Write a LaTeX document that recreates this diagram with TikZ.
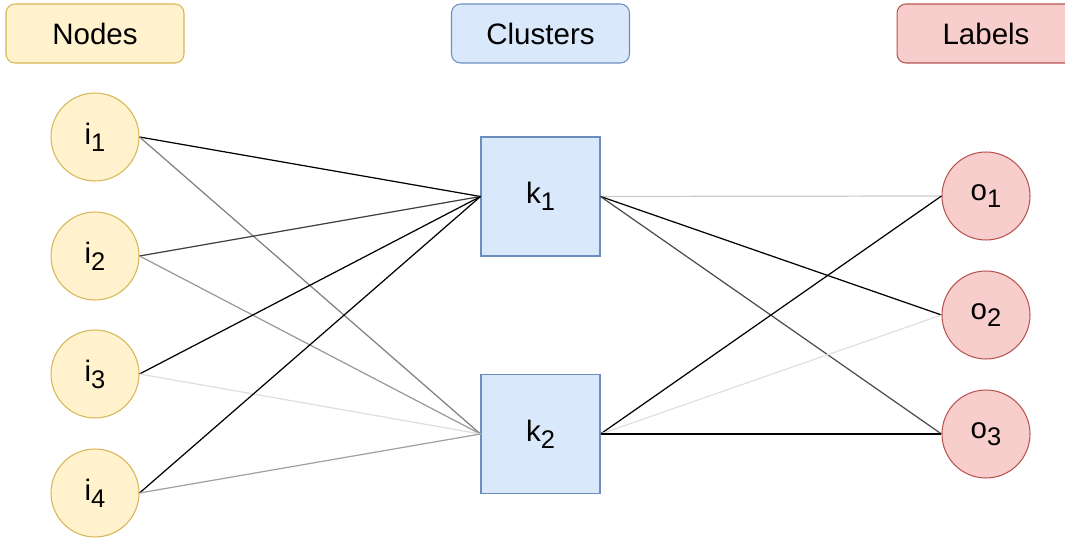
\documentclass[tikz,border=0pt]{standalone}
\usepackage{fontspec}
\setmainfont{Liberation Sans}

\definecolor{yfill}{HTML}{FFF2CC}
\definecolor{ydraw}{HTML}{D6B656}
\definecolor{bfill}{HTML}{DAE8FC}
\definecolor{bdraw}{HTML}{6C8EBF}
\definecolor{rfill}{HTML}{F8CECC}
\definecolor{rdraw}{HTML}{B85450}

\newcommand{\idx}[2]{#1\raisebox{-0.45ex}{\fontsize{14.5pt}{15pt}\selectfont #2}}

\tikzset{
    header/.style={draw, rounded corners=0.18cm, minimum width=3.56cm, minimum height=1.18cm, line width=0.6pt},
    innode/.style={circle, draw=ydraw, fill=yfill, minimum size=1.76cm, inner sep=0pt, line width=0.6pt},
    cluster/.style={draw=bdraw, fill=bfill, minimum size=2.38cm, inner sep=0pt, line width=0.6pt},
    outnode/.style={circle, draw=rdraw, fill=rfill, minimum size=1.76cm, inner sep=0pt, line width=0.6pt},
    link/.style={line width=0.7pt}
}

\begin{document}
\begin{tikzpicture}[x=0.02cm, y=-0.02cm, font=\fontsize{16.8pt}{19pt}\selectfont]
    \useasboundingbox (0,0) rectangle (1065,540);
    \clip (0,0) rectangle (1065,540);

    % Column headers
    \node[header, draw=ydraw, fill=yfill] (hnodes) at (95,33.5) {Nodes};
    \node[header, draw=bdraw, fill=bfill] (hclusters) at (540.5,33.5) {Clusters};
    \node[header, draw=rdraw, fill=rfill] (hlabels) at (986,33.5) {Labels};

    % Input nodes
    \node[innode] (i1) at (95,137) {\idx{i}{1}};
    \node[innode] (i2) at (95,256) {\idx{i}{2}};
    \node[innode] (i3) at (95,374) {\idx{i}{3}};
    \node[innode] (i4) at (95,493) {\idx{i}{4}};

    % Clusters
    \node[cluster] (k1) at (540.5,196.5) {\idx{k}{1}};
    \node[cluster] (k2) at (540.5,434) {\idx{k}{2}};

    % Output labels
    \node[outnode] (o1) at (986,196) {\idx{o}{1}};
    \node[outnode] (o2) at (986,315) {\idx{o}{2}};
    \node[outnode] (o3) at (986,434) {\idx{o}{3}};

    % Nodes to clusters
    \draw[link, black] (i1.east) -- (k1.west);
    \draw[link, black!50] (i1.east) -- (k2.west);
    \draw[link, black!75] (i2.east) -- (k1.west);
    \draw[link, black!40] (i2.east) -- (k2.west);
    \draw[link, black] (i3.east) -- (k1.west);
    \draw[link, black!13] (i3.east) -- (k2.west);
    \draw[link, black] (i4.east) -- (k1.west);
    \draw[link, black!37] (i4.east) -- (k2.west);

    % Clusters to labels
    \draw[link, black!20] (k1.east) -- (o1.west);
    \draw[link, black] (k1.east) -- (o2.west);
    \draw[link, black!70] (k1.east) -- (o3.west);
    \draw[link, black] (k2.east) -- (o1.west);
    \draw[link, black!12] (k2.east) -- (o2.west);
    \draw[link, black] (k2.east) -- (o3.west);
\end{tikzpicture}
\end{document}
